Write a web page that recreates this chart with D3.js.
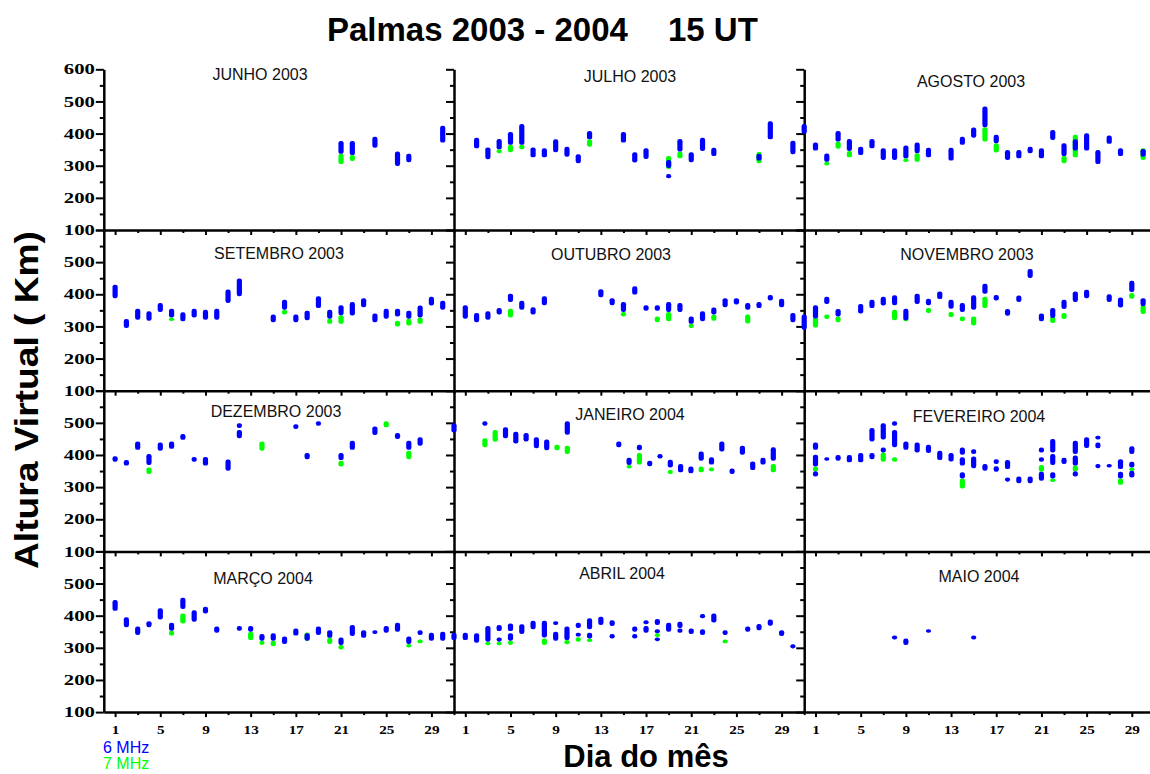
<!DOCTYPE html>
<html><head><meta charset="utf-8">
<script src="https://cdn.jsdelivr.net/npm/d3@7"></script>
<style>body{margin:0;background:#fff}svg{display:block}</style>
</head><body>
<script>
// ---------------- DATA ----------------
const months = ["JUNHO 2003","JULHO 2003","AGOSTO 2003","SETEMBRO 2003","OUTUBRO 2003","NOVEMBRO 2003",
  "DEZEMBRO 2003","JANEIRO 2004","FEVEREIRO 2004","MARÇO 2004","ABRIL 2004","MAIO 2004"];
const seriesNames = ["6 MHz","7 MHz"];
const yMajor = [100,200,300,400,500,600];
const yMinor = [150,250,350,450,550];
const xMajor = [1,5,9,13,17,21,25,29];
const xMinor = [3,7,11,15,19,23,27,31];
// x extent of each month's data layer (JANEIRO layer is compressed)
const dataSpan = [31,31,31,31,31,31,31,34,31,31,31,31];

// [day, lowest km, highest km]  6 MHz (blue) and 7 MHz (green)
const jun6 = [[21,337,377],[22,333,377],[24,356,390],[26,299,344],[27,311,337],[30,372,424]];
const jun7 = [[21,305,337],[22,315,333]];
const jul6 = [[2,354,387],[3,320,357],[4,351,383],[5,365,405],[6,365,430],[7,326,357],[8,326,354],[9,342,382],[10,328,359],[11,308,336],[12,382,408],[15,372,405],[16,310,342],[17,321,354],[19,293,318],[19,261,274],[20,344,383],[21,311,342],[22,346,387],[23,330,356],[27,316,337],[28,382,438],[30,336,378],[31,399,430]];
const jul7 = [[4,339,351],[5,342,365],[6,351,365],[12,359,382],[19,290,330],[20,323,344],[27,308,343]];
const ago6 = [[1,347,372],[2,312,338],[3,375,408],[4,346,383],[5,333,359],[6,354,383],[7,318,354],[8,318,354],[9,323,363],[10,339,372],[11,326,356],[13,316,356],[14,365,390],[15,387,419],[16,420,484],[17,370,396],[18,318,349],[19,323,349],[20,339,359],[21,323,354],[22,380,411],[23,330,370],[24,347,382],[25,347,401],[26,305,349],[27,368,394],[28,330,354],[30,328,352]];
const ago7 = [[2,302,312],[3,353,375],[4,326,346],[9,318,323],[10,312,339],[16,375,420],[17,341,370],[23,308,330],[24,326,396],[30,318,354]];
const set6 = [[1,388,430],[2,295,323],[3,321,355],[4,318,347],[5,345,373],[6,328,355],[7,316,344],[8,328,355],[9,321,352],[10,321,355],[11,373,415],[12,394,449],[15,313,337],[16,352,383],[17,313,337],[18,319,349],[19,357,394],[20,324,352],[21,335,366],[22,334,376],[23,360,388],[24,313,340],[25,324,355],[26,331,355],[27,324,349],[28,328,365],[29,365,392],[30,352,380]];
const set7 = [[6,323,328],[16,337,352],[20,308,324],[21,308,335],[26,300,318],[27,303,324],[28,308,328]];
const out6 = [[1,324,366],[2,313,342],[3,321,347],[4,337,357],[5,376,402],[6,352,380],[7,337,360],[8,366,394],[13,391,416],[14,366,388],[15,345,376],[16,399,425],[17,349,366],[18,349,366],[19,345,376],[20,345,373],[21,308,331],[22,316,347],[23,337,359],[24,360,388],[25,368,388],[26,352,373],[27,357,376],[28,381,398],[29,360,386],[30,313,342],[31,290,337]];
const out7 = [[5,328,355],[15,331,345],[18,313,331],[19,316,345],[21,295,308],[23,318,337],[26,309,337]];
const nov6 = [[1,325,366],[2,370,392],[3,331,354],[5,340,370],[6,357,383],[7,365,392],[8,366,397],[9,319,355],[10,370,402],[11,366,386],[12,385,409],[13,355,383],[14,345,373],[15,352,397],[16,402,433],[17,381,398],[18,333,354],[19,376,396],[20,451,479],[21,316,340],[22,326,357],[23,354,383],[24,376,409],[25,388,414],[27,376,400],[28,359,390],[29,407,442],[30,363,388]];
const nov7 = [[1,297,330],[2,323,337],[3,313,331],[8,319,352],[9,316,331],[11,342,357],[13,329,345],[14,316,331],[15,303,331],[16,357,392],[22,311,331],[23,323,342],[29,386,404],[30,339,366]];
const dez6 = [[1,379,396],[2,367,384],[3,416,442],[4,369,403],[5,413,439],[6,419,442],[7,447,465],[8,379,394],[9,367,394],[11,351,386],[12,484,499],[12,452,478],[17,481,496],[18,387,406],[19,491,505],[21,384,406],[22,416,444],[24,462,489],[26,450,468],[27,416,444],[28,429,455],[31,470,499]];
const dez7 = [[4,341,361],[14,413,442],[21,364,382],[25,486,505],[27,387,413]];
const jan6 = [[3,491,505],[5,452,486],[6,436,472],[7,442,468],[8,421,455],[9,415,448],[11,463,505],[16,424,442],[17,369,391],[18,415,432],[19,365,382],[20,389,403],[21,361,385],[22,346,372],[23,343,364],[24,382,411],[25,370,393],[26,411,442],[27,341,358],[28,401,429],[29,353,380],[30,370,391],[31,382,424]];
const jan7 = [[3,424,452],[4,441,478],[10,415,432],[11,403,429],[17,358,369],[18,370,406],[21,341,353],[24,346,364],[25,349,361],[31,346,372]];
const fev6 = [[1,333,349],[1,364,401],[1,416,439],[2,383,393],[3,382,400],[4,377,400],[5,377,406],[6,442,484],[6,387,406],[7,448,499],[7,408,423],[8,491,505],[8,424,478],[9,416,442],[10,408,439],[11,406,432],[12,384,413],[13,380,406],[14,401,423],[14,367,393],[14,327,346],[15,403,418],[15,359,395],[16,351,372],[17,372,387],[17,348,365],[18,356,384],[18,317,330],[19,312,333],[20,312,333],[21,408,423],[21,379,393],[21,320,348],[22,408,450],[22,369,403],[22,327,346],[23,372,391],[24,403,444],[24,367,398],[24,333,349],[25,422,455],[26,448,460],[26,421,439],[26,359,372],[27,361,372],[28,356,387],[28,327,348],[29,403,427],[29,361,379],[29,330,351]];
const fev7 = [[1,349,364],[7,379,408],[8,379,393],[14,296,327],[21,348,369],[22,320,327],[24,349,367],[28,307,327],[29,351,361]];
const mar6 = [[1,415,449],[2,364,395],[3,340,366],[4,364,383],[5,388,423],[6,353,378],[7,421,456],[8,381,417],[9,407,428],[10,347,366],[12,353,368],[13,350,368],[14,322,343],[15,322,345],[16,312,335],[17,338,360],[18,322,345],[19,340,366],[20,331,355],[21,309,332],[22,337,371],[23,331,355],[24,343,355],[25,347,368],[26,350,378],[27,312,335],[28,340,355],[29,322,347],[30,322,350],[31,324,347]];
const mar7 = [[6,338,353],[7,376,407],[13,324,350],[14,309,322],[15,305,322],[18,322,348],[20,312,331],[21,295,309],[27,305,312],[28,314,326]];
const abr6 = [[1,324,347],[2,316,345],[3,319,368],[4,352,371],[4,319,332],[5,352,376],[5,322,345],[6,343,373],[7,358,384],[8,332,384],[9,371,383],[9,322,350],[10,324,366],[11,362,378],[11,335,347],[12,358,392],[12,329,347],[13,371,397],[14,368,386],[14,329,343],[16,350,366],[16,329,343],[17,373,386],[17,347,368],[18,371,390],[18,345,358],[18,322,332],[19,350,378],[20,362,381],[20,347,360],[21,343,360],[22,392,405],[22,340,358],[23,379,407],[24,340,355],[26,350,366],[27,355,374],[28,369,388],[29,337,355],[30,298,311]];
const abr7 = [[3,309,319],[4,309,319],[5,309,322],[8,309,329],[10,311,324],[11,319,333],[12,326,329],[18,340,345],[24,314,326]];
const mai6 = [[8,326,338],[9,309,329],[11,347,358],[15,326,338]];
const mai7 = [];

const blueSets = [jun6,jul6,ago6,set6,out6,nov6,dez6,jan6,fev6,mar6,abr6,mai6];
const greenSets = [jun7,jul7,ago7,set7,out7,nov7,dez7,jan7,fev7,mar7,abr7,mai7];

// ---------------- LAYOUT ----------------
const W = 1150, H = 774;
const colLeft = [103.8, 454.0, 804.2], panelW = 350.2;
const rowTop = [69.3, 230.0, 390.7, 551.4], panelH = 160.7;
const titlePos = [[260,80],[630,82],[971,87],[279,259],[611,260],[967,260],[276,417],[630,420],[979,422],[263,584],[622,579],[979,582]];
const BLUE = "#0000ff", GREEN = "#00ff00";

const svg = d3.select("body").append("svg").attr("width", W).attr("height", H);
svg.append("rect").attr("width", W).attr("height", H).attr("fill", "#fff");

const axesG = svg.append("g");
const marksG = svg.append("g");

months.forEach((m, i) => {
  const col = i % 3, row = Math.floor(i / 3);
  const L = colLeft[col], T = rowTop[row];
  const x = d3.scaleLinear().domain([0, 31]).range([L, L + panelW]);
  const xd = d3.scaleLinear().domain([0, dataSpan[i]]).range([L, L + panelW]);
  const y = d3.scaleLinear().domain([100, 600]).range([T + panelH, T]);

  axesG.append("g").attr("transform", `translate(${L},0)`)
    .call(d3.axisLeft(y).tickValues(yMajor).tickSize(8).tickSizeOuter(0).tickPadding(1)
      .tickFormat(d => (col === 0 && (row === 0 || d !== 600)) ? d : ""));
  axesG.append("g").attr("transform", `translate(${L},0)`)
    .call(d3.axisLeft(y).tickValues(yMinor).tickSize(4).tickSizeOuter(0).tickFormat(""))
    .select(".domain").remove();
  axesG.append("g").attr("transform", `translate(0,${T + panelH})`)
    .call(d3.axisBottom(x).tickValues(xMajor).tickSize(5).tickSizeOuter(0).tickPadding(7)
      .tickFormat(d => row === 3 ? d : ""));
  axesG.append("g").attr("transform", `translate(0,${T + panelH})`)
    .call(d3.axisBottom(x).tickValues(xMinor).tickSize(3).tickSizeOuter(0).tickFormat(""))
    .select(".domain").remove();

  axesG.append("text").attr("x", titlePos[i][0]).attr("y", titlePos[i][1])
    .attr("text-anchor", "middle").attr("font-family", "Liberation Sans, Arial, sans-serif")
    .attr("font-size", 16).attr("fill", "#111").text(m);

  const draw = (data, color) => {
    marksG.append("g").selectAll("rect").data(data).join("rect")
      .attr("x", d => xd(d[0]) - 2.6).attr("width", 5.2)
      .attr("y", d => y(d[2]))
      .attr("height", d => Math.max(3.6, y(d[1]) - y(d[2])))
      .attr("rx", 2.2).attr("fill", color);
  };
  draw(greenSets[i], GREEN);
  draw(blueSets[i], BLUE);
});

axesG.selectAll(".domain").attr("stroke", "#000").attr("stroke-width", 2.5);
axesG.selectAll(".tick line").attr("stroke", "#000").attr("stroke-width", 2);
axesG.selectAll(".tick text")
  .attr("font-family", "Liberation Serif, Times New Roman, serif")
  .attr("font-weight", "bold").attr("fill", "#000")
  .each(function () {
    const t = d3.select(this), s = t.text();
    if (!s) return;
    const isY = +s >= 100;
    t.attr("font-size", isY ? 14.5 : 13.5)
     .attr("textLength", isY ? 31 : 7.6 * s.length).attr("lengthAdjust", "spacingAndGlyphs");
  });

// main title
const title = svg.append("text").attr("y", 41)
  .attr("font-family", "Liberation Sans, Arial, sans-serif").attr("font-weight", "bold")
  .attr("font-size", 33).attr("fill", "#000");
title.append("tspan").attr("x", 327).text("Palmas 2003 - 2004");
title.append("tspan").attr("x", 668).text("15 UT");

// axis titles
svg.append("text").attr("x", 646).attr("y", 767).attr("text-anchor", "middle")
  .attr("font-family", "Liberation Sans, Arial, sans-serif").attr("font-weight", "bold")
  .attr("font-size", 31).attr("fill", "#000").text("Dia do mês");
svg.append("text").attr("transform", "translate(38,400) rotate(-90)").attr("text-anchor", "middle")
  .attr("font-family", "Liberation Sans, Arial, sans-serif").attr("font-weight", "bold")
  .attr("font-size", 34).attr("textLength", 338).attr("lengthAdjust", "spacingAndGlyphs")
  .attr("fill", "#000").text("Altura Virtual ( Km)");

// legend
[BLUE, GREEN].forEach((c, k) => {
  svg.append("text").attr("x", 103).attr("y", 753 + k * 16)
    .attr("font-family", "Liberation Sans, Arial, sans-serif").attr("font-size", 16)
    .attr("fill", c).text(seriesNames[k]);
});
</script>
</body></html>
